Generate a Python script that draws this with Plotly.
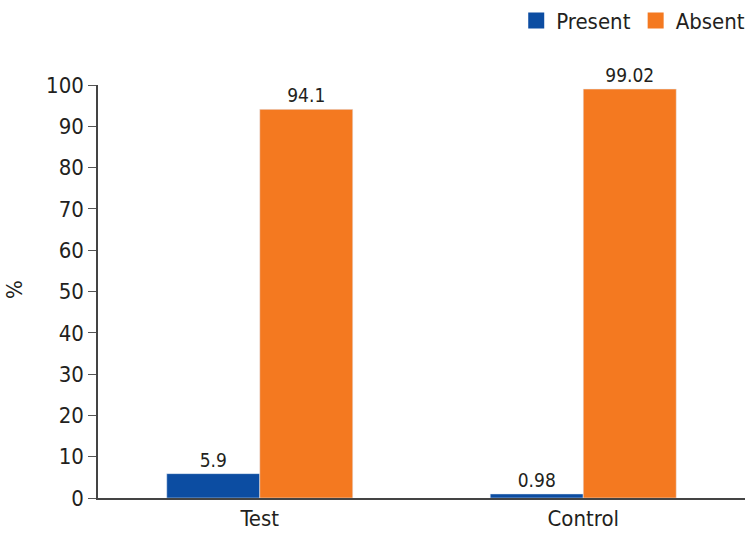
import plotly.graph_objects as go

categories = ["Test", "Control"]
present = [5.9, 0.98]
absent = [94.1, 99.02]
present_labels = ["5.9", "0.98"]
absent_labels = ["94.1", "99.02"]
y_ticks = [0, 10, 20, 30, 40, 50, 60, 70, 80, 90, 100]

FONT = "DejaVu Sans Condensed, Liberation Sans Narrow, sans-serif"
TXT = "#231F20"
BLUE = "#0C4DA2"
ORANGE = "#F47920"

fig = go.Figure()
fig.add_trace(go.Bar(name="Present", x=categories, y=present, marker_color=BLUE,
                     text=present_labels, textposition="outside", showlegend=False,
                     textfont=dict(size=19, color=TXT, family=FONT), cliponaxis=False))
fig.add_trace(go.Bar(name="Absent", x=categories, y=absent, marker_color=ORANGE,
                     text=absent_labels, textposition="outside", showlegend=False,
                     textfont=dict(size=19, color=TXT, family=FONT), cliponaxis=False))
# legend-only entries with larger square symbols
for nm, col in [("Present", BLUE), ("Absent", ORANGE)]:
    fig.add_trace(go.Scatter(x=[None], y=[None], mode="markers", name=nm,
                             marker=dict(symbol="square", size=18, color=col)))

fig.update_layout(
    width=754, height=544,
    margin=dict(l=98, r=9, t=85, b=46, autoexpand=False),
    barmode="group", bargap=0.425, bargroupgap=0,
    plot_bgcolor="white", paper_bgcolor="white",
    font=dict(family=FONT, size=22, color=TXT),
    legend=dict(orientation="h", xref="container", x=0.995, xanchor="right",
                yref="container", y=0.962, yanchor="middle",
                font=dict(size=22, family=FONT, color=TXT), itemwidth=30,
                traceorder="normal"),
)
fig.add_annotation(text="%", xref="paper", yref="paper", x=-0.128, y=0.504,
                   textangle=-90, showarrow=False, xanchor="center", yanchor="middle",
                   font=dict(size=22, family=FONT, color=TXT))
fig.update_yaxes(range=[0, 100], tickvals=y_ticks, ticks="outside", ticklen=8,
                 tickcolor="#555555", showline=True, linecolor="#444444", linewidth=1.5,
                 showgrid=False, zeroline=False, automargin=False,
                 tickfont=dict(size=22, family=FONT, color=TXT))
fig.update_xaxes(showline=True, linecolor="#444444", linewidth=1.5, ticks="",
                 showgrid=False, automargin=False,
                 tickfont=dict(size=22, family=FONT, color=TXT))

fig.write_html("out.html", config={"displayModeBar": False},
               post_script="document.body.style.margin='0';")
